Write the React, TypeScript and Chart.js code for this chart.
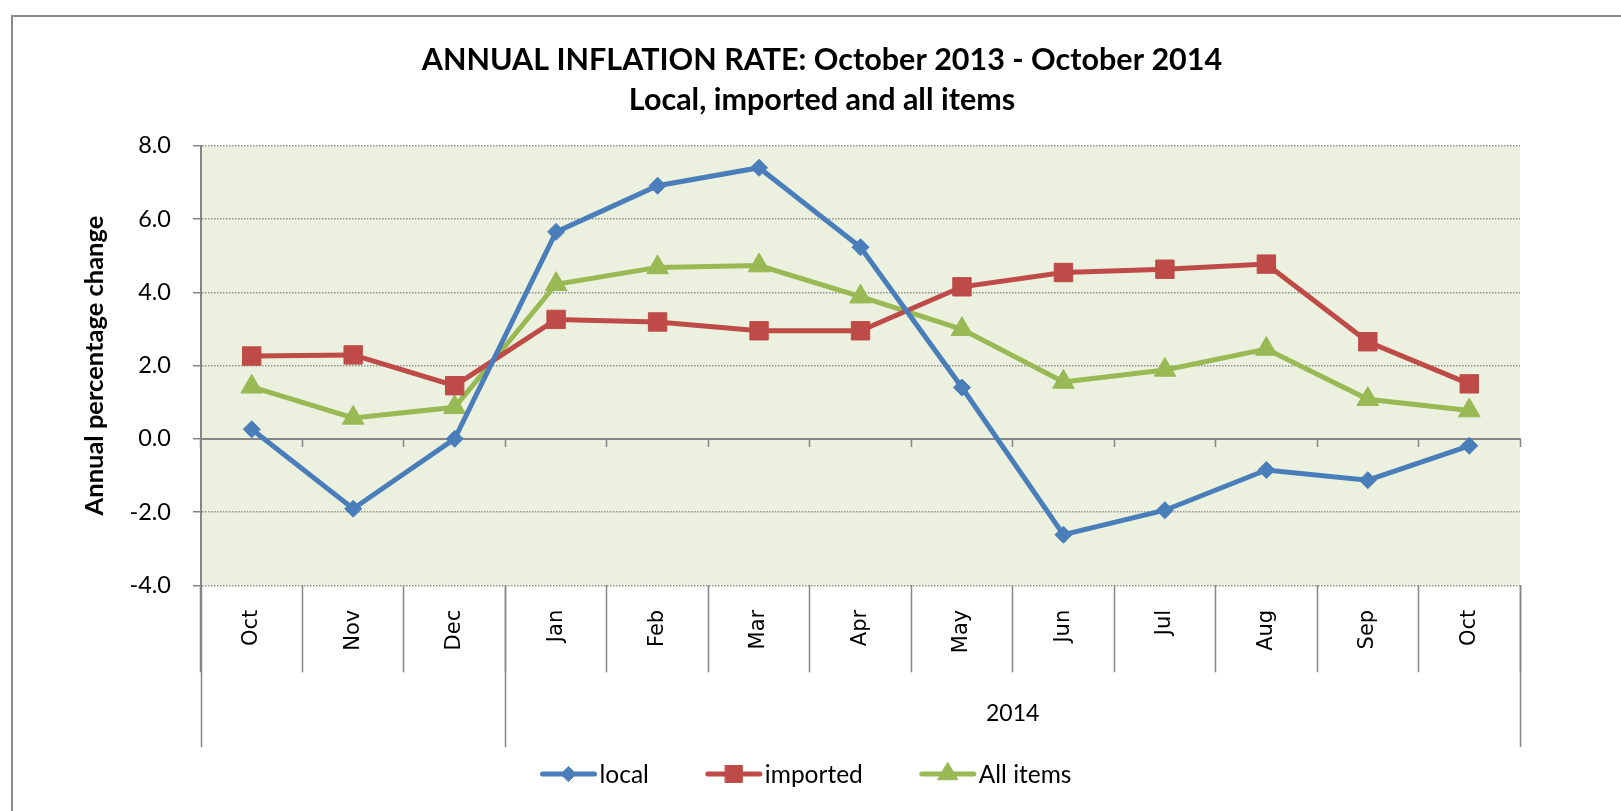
import React, { useEffect, useRef } from 'react';
import { Chart, registerables } from 'chart.js';
import { drawPoint } from 'chart.js/helpers';

Chart.register(...registerables);

const months = ['Oct', 'Nov', 'Dec', 'Jan', 'Feb', 'Mar', 'Apr', 'May', 'Jun', 'Jul', 'Aug', 'Sep', 'Oct'];
const groupLabels = ['', '2014'];
const groupSizes = [3, 10];
const localValues = [0.26, -1.91, 0.0, 5.65, 6.91, 7.4, 5.23, 1.4, -2.62, -1.95, -0.85, -1.13, -0.19];
const importedValues = [2.26, 2.29, 1.45, 3.26, 3.19, 2.95, 2.95, 4.15, 4.54, 4.63, 4.77, 2.65, 1.5];
const allItemsValues = [1.42, 0.57, 0.86, 4.22, 4.68, 4.73, 3.88, 2.99, 1.55, 1.88, 2.45, 1.08, 0.77];
const yMin = -4;
const yMax = 8;
const yStep = 2;
const titleLines = ['ANNUAL INFLATION RATE: October 2013 - October 2014', 'Local, imported and all items'];
const yAxisTitle = 'Annual percentage change';
const seriesNames = ['local', 'imported', 'All items'];

const BLUE = '#4A7EBB';
const RED = '#BE4B48';
const GREEN = '#98B954';
const PLOT_BG = '#EBF1DE';
const AXIS_GRAY = '#868686';
const FONT = 'Lato, "Open Sans", sans-serif';
const LABEL_FONT = '"DejaVu Sans", Verdana, sans-serif';

const seriesStyles = [
  { color: BLUE, pointStyle: 'rectRot', radius: 8.5, legendRadius: 7.5 },
  { color: RED, pointStyle: 'rect', radius: 13, legendRadius: 12 },
  { color: GREEN, pointStyle: 'triangle', radius: 12.5, legendRadius: 11.5 },
];

const decorPlugin = {
  id: 'decor',
  beforeDraw(chart: any) {
    const { ctx, chartArea } = chart;
    ctx.save();
    ctx.fillStyle = PLOT_BG;
    ctx.fillRect(chartArea.left, chartArea.top, chartArea.right - chartArea.left, chartArea.bottom - chartArea.top);
    // outer frame
    ctx.strokeStyle = '#8a8a8a';
    ctx.lineWidth = 2;
    ctx.beginPath();
    ctx.moveTo(12, chart.height + 5);
    ctx.lineTo(12, 16);
    ctx.lineTo(chart.width + 5, 16);
    ctx.stroke();
    ctx.restore();
  },
  afterDraw(chart: any) {
    const { ctx, chartArea } = chart;
    const xs = chart.scales.x;
    const half = (xs.getPixelForValue(1) - xs.getPixelForValue(0)) / 2;
    ctx.save();
    // group separators and group labels
    ctx.strokeStyle = AXIS_GRAY;
    ctx.lineWidth = 1.5;
    let start = 0;
    const groupBottom = 747;
    const boundaries: number[] = [0];
    groupSizes.forEach((n) => {
      start += n;
      boundaries.push(start);
    });
    boundaries.forEach((b) => {
      const px = b < months.length ? xs.getPixelForValue(b) - half : xs.getPixelForValue(months.length - 1) + half;
      ctx.beginPath();
      ctx.moveTo(Math.round(px) + 0.5, chartArea.bottom);
      ctx.lineTo(Math.round(px) + 0.5, groupBottom);
      ctx.stroke();
    });
    ctx.fillStyle = '#000';
    ctx.font = `23px ${FONT}`;
    ctx.textAlign = 'center';
    ctx.textBaseline = 'middle';
    groupLabels.forEach((lbl, gi) => {
      if (!lbl) return;
      const a = boundaries[gi];
      const b = boundaries[gi + 1] - 1;
      const cx = (xs.getPixelForValue(a) + xs.getPixelForValue(b)) / 2;
      ctx.fillText(lbl, cx, 714);
    });

    // legend
    const lineLen = 56;
    const textGap = 3;
    const itemGap = 57;
    ctx.font = `24.5px ${FONT}`;
    const widths = seriesNames.map((s) => ctx.measureText(s).width);
    const total = widths.reduce((acc, w) => acc + lineLen + textGap + w, 0) + itemGap * (seriesNames.length - 1);
    let x = 806 - total / 2;
    const ly = 774;
    seriesNames.forEach((name, i) => {
      const st = seriesStyles[i];
      ctx.strokeStyle = st.color;
      ctx.lineWidth = 5;
      ctx.lineCap = 'round';
      ctx.beginPath();
      ctx.moveTo(x + 2, ly);
      ctx.lineTo(x + lineLen - 2, ly);
      ctx.stroke();
      ctx.fillStyle = st.color;
      ctx.strokeStyle = st.color;
      ctx.lineWidth = 1;
      drawPoint(ctx, { pointStyle: st.pointStyle, radius: st.legendRadius, rotation: 0, borderWidth: 1 } as any, x + lineLen / 2, ly);
      ctx.fillStyle = '#000';
      ctx.textAlign = 'left';
      ctx.textBaseline = 'middle';
      ctx.fillText(name, x + lineLen + textGap, ly + 1);
      x += lineLen + textGap + widths[i] + itemGap;
    });
    ctx.restore();
  },
};

export default function App() {
  const ref = useRef<HTMLCanvasElement>(null);
  useEffect(() => {
    const canvas = ref.current!;
    const mk = (label: string, data: number[], i: number) => ({
      label,
      data,
      borderColor: seriesStyles[i].color,
      backgroundColor: seriesStyles[i].color,
      pointBackgroundColor: seriesStyles[i].color,
      pointBorderColor: seriesStyles[i].color,
      pointStyle: seriesStyles[i].pointStyle,
      pointRadius: seriesStyles[i].radius,
      pointHoverRadius: seriesStyles[i].radius,
      pointBorderWidth: 1,
      borderWidth: 5,
      tension: 0,
      fill: false,
    });
    const chart = new Chart(canvas, {
      type: 'line',
      data: {
        labels: months,
        datasets: [
          mk(seriesNames[0], localValues, 0),
          mk(seriesNames[1], importedValues, 1),
          mk(seriesNames[2], allItemsValues, 2),
        ],
      },
      options: {
        responsive: false,
        animation: false,
        events: [],
        layout: { padding: { left: 23, right: 0, top: 0, bottom: 0 } },
        plugins: {
          legend: { display: false },
          tooltip: { enabled: false },
          title: {
            display: true,
            text: titleLines,
            color: '#000',
            font: { family: FONT, size: 30.5, weight: 'bold', lineHeight: 40 / 30.5 },
            padding: { top: 40, bottom: 25.8 },
          },
        },
        scales: {
          x: {
            type: 'category',
            position: 'bottom',
            offset: true,
            border: { display: false },
            grid: {
              offset: true,
              drawOnChartArea: false,
              drawTicks: true,
              tickLength: 87,
              tickColor: AXIS_GRAY,
              tickWidth: 1.5,
              color: AXIS_GRAY,
            },
            ticks: {
              autoSkip: false,
              minRotation: 90,
              maxRotation: 90,
              padding: -62.5,
              color: '#000',
              font: { family: LABEL_FONT, size: 21 },
            },
            afterFit: (s: any) => {
              s.height = 811 - 585.3;
            },
          },
          x2: {
            type: 'category',
            position: { y: 0 } as any,
            offset: true,
            border: { display: true, color: AXIS_GRAY, width: 2 },
            grid: {
              offset: true,
              drawOnChartArea: false,
              drawTicks: true,
              tickLength: 7,
              tickColor: AXIS_GRAY,
              tickWidth: 1.5,
              color: AXIS_GRAY,
            },
            ticks: { display: false },
          },
          y: {
            type: 'linear',
            position: 'left',
            min: yMin,
            max: yMax,
            border: { display: true, color: AXIS_GRAY, width: 2, dash: [1.5, 1.5] },
            grid: {
              color: '#8f8f8f',
              lineWidth: 1.5,
              drawTicks: true,
              tickLength: 8,
              tickColor: AXIS_GRAY,
              tickWidth: 1.5,
              tickBorderDash: [],
            },
            ticks: {
              stepSize: yStep,
              padding: 22,
              color: '#000',
              font: { family: FONT, size: 23.5 },
              callback: (v: any) => Number(v).toFixed(1),
            },
            title: {
              display: true,
              text: yAxisTitle,
              color: '#000',
              font: { family: FONT, size: 25.5, weight: 'bold' },
              padding: { top: 56.7, bottom: 0 },
            },
            afterFit: (s: any) => {
              s.width = 178;
            },
          },
          yRight: {
            type: 'linear',
            position: 'right',
            display: true,
            border: { display: false },
            grid: { display: false },
            ticks: { display: false },
            afterFit: (s: any) => {
              s.width = 101;
            },
          },
        },
      },
      plugins: [decorPlugin],
    } as any);
    return () => chart.destroy();
  }, []);
  return (
    <div style={{ position: 'absolute', left: 0, top: 0, width: 1621, height: 811, background: '#fff' }}>
      <canvas ref={ref} width={1621} height={811} style={{ width: 1621, height: 811, display: 'block' }} />
    </div>
  );
}
